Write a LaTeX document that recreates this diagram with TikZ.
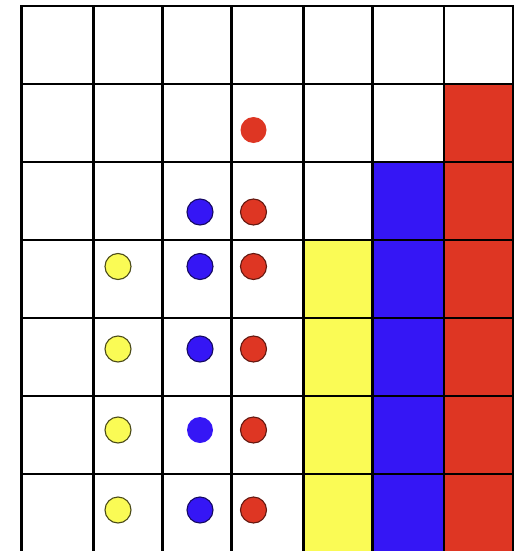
\documentclass[tikz,border=0pt]{standalone}
\definecolor{cred}{HTML}{DE3623}
\definecolor{cblue}{HTML}{3516F5}
\definecolor{cyel}{HTML}{FAFB55}
\tikzset{
  grid line/.style={line width=2.3pt, line cap=rect},
  dot/.style={circle, inner sep=0pt, minimum size=26pt, line width=1.1pt},
  reddot/.style={dot, fill=cred, draw=cred!45!black},
  bluedot/.style={dot, fill=cblue, draw=cblue!40!black},
  yeldot/.style={dot, fill=cyel, draw=cyel!30!black},
  reddotplain/.style={dot, fill=cred},
  bluedotplain/.style={dot, fill=cblue},
}
\begin{document}
\begin{tikzpicture}[x=1pt,y=-1pt]
\useasboundingbox (0,0) rectangle (519,551);
% coloured columns
\fill[cyel] (303.5,240) rectangle (372.5,551);
\fill[cblue] (372.5,162) rectangle (444,551);
\fill[cred] (444,84) rectangle (513,551);
% grid
\foreach \x in {21.5,93.5,162.5,231.5,303.5,372.5,444,513}
  \draw[grid line] (\x,6) -- (\x,553);
\foreach \y in {6,84,162,240,318,396,474}
  \draw[grid line] (21.5,\y) -- (513,\y);
% dots
\node[reddotplain] (r2) at (253.5,130) {};
\node[bluedot] (b3) at (200,212) {};
\node[reddot] (r3) at (253.5,212) {};
\node[yeldot] (y4) at (118,266.5) {};
\node[bluedot] (b4) at (200,266.5) {};
\node[reddot] (r4) at (253.5,266.5) {};
\node[yeldot] (y5) at (118,349) {};
\node[bluedot] (b5) at (200,349) {};
\node[reddot] (r5) at (253.5,349) {};
\node[yeldot] (y6) at (118,430) {};
\node[bluedotplain] (b6) at (200,430) {};
\node[reddot] (r6) at (253.5,430) {};
\node[yeldot] (y7) at (118,510) {};
\node[bluedot] (b7) at (200,510) {};
\node[reddot] (r7) at (253.5,510) {};
\end{tikzpicture}
\end{document}
